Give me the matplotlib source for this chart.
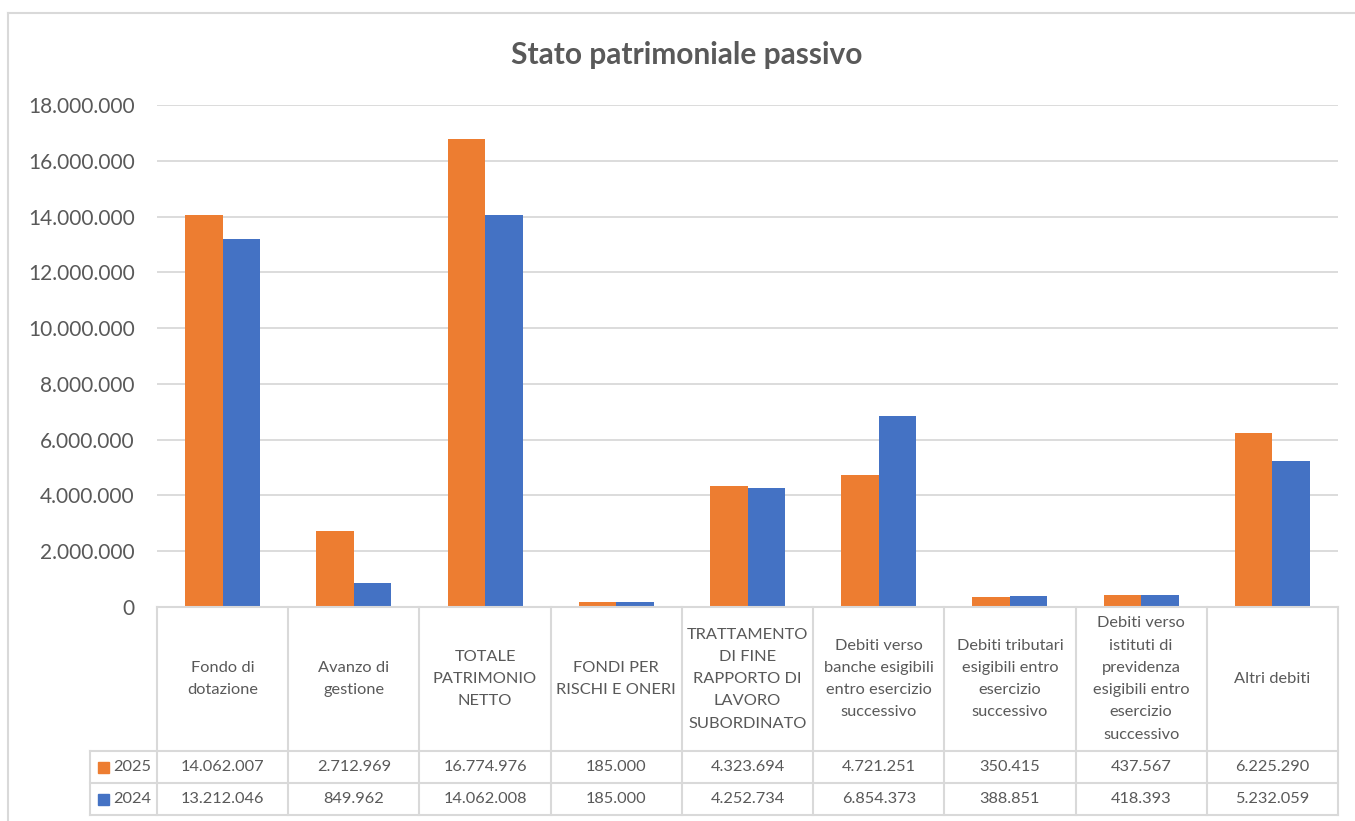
import matplotlib.pyplot as plt
from matplotlib.patches import Rectangle
from matplotlib.lines import Line2D
import numpy as np

plt.rcParams['font.family'] = ['Lato', 'DejaVu Sans']

# ---------------- dati ----------------
categorie = [
    'Fondo di\ndotazione',
    'Avanzo di\ngestione',
    'TOTALE\nPATRIMONIO\nNETTO',
    'FONDI PER\nRISCHI E ONERI',
    'TRATTAMENTO\nDI FINE\nRAPPORTO DI\nLAVORO\nSUBORDINATO',
    'Debiti verso\nbanche esigibili\nentro esercizio\nsuccessivo',
    'Debiti tributari\nesigibili entro\nesercizio\nsuccessivo',
    'Debiti verso\nistituti di\nprevidenza\nesigibili entro\nesercizio\nsuccessivo',
    'Altri debiti',
]
valori_2025 = [14062007, 2712969, 16774976, 185000, 4323694, 4721251, 350415, 437567, 6225290]
valori_2024 = [13212046, 849962, 14062008, 185000, 4252734, 6854373, 388851, 418393, 5232059]
anni = ['2025', '2024']

c_2025 = '#ED7D31'
c_2024 = '#4472C4'
grigio_testo = '#595959'
grigio_linee = '#D9D9D9'

W, H = 1355, 821
fs_tab = 11.8


def fmt(v):
    return f'{v:,}'.replace(',', '.')


fig = plt.figure(figsize=(W / 100, H / 100), dpi=100)

# bordo esterno del grafico (tagliato a destra e in basso)
fig.add_artist(Line2D([8 / W, 8 / W], [0, 1 - 13 / H], color=grigio_linee, lw=1.5))
fig.add_artist(Line2D([8 / W, 1], [1 - 13 / H, 1 - 13 / H], color=grigio_linee, lw=1.5))

# ---------------- grafico a barre ----------------
x0, x1 = 157, 1338
ax = fig.add_axes([x0 / W, 1 - 607 / H, (x1 - x0) / W, (607 - 105) / H])
x = np.arange(len(categorie))
w = 0.286
ax.bar(x - w / 2, valori_2025, w, color=c_2025, zorder=3)
ax.bar(x + w / 2, valori_2024, w, color=c_2024, zorder=3)
ax.set_xlim(-0.5, len(categorie) - 0.5)
ax.set_ylim(0, 18000000)
yt = np.arange(0, 18000001, 2000000)
ax.set_yticks(yt)
ax.set_yticklabels([fmt(v) for v in yt], fontsize=15, color=grigio_testo)
ax.tick_params(axis='y', length=0, pad=16)
ax.set_xticks([])
ax.grid(axis='y', color=grigio_linee, lw=1.3, zorder=0)
for s in ax.spines.values():
    s.set_visible(False)

fig.text(687 / W, 1 - 55 / H, 'Stato patrimoniale passivo', ha='center', va='center',
         fontsize=21.5, fontweight='bold', color=grigio_testo)

# ---------------- tabella dati ----------------
tx = fig.add_axes([x0 / W, 1 - 815 / H, (x1 - x0) / W, (815 - 607) / H])
tx.set_xlim(-0.5, len(categorie) - 0.5)
tx.set_ylim(208, 0)
tx.axis('off')
cella = (x1 - x0) / len(categorie)
leg_sx = -0.5 - 67 / cella
kw = dict(color=grigio_linee, lw=1.5, clip_on=False, solid_capstyle='projecting')
for i in range(len(categorie) + 1):
    tx.plot([i - 0.5, i - 0.5], [0, 208], **kw)
tx.plot([leg_sx, leg_sx], [144, 208], **kw)
tx.plot([-0.5, len(categorie) - 0.5], [0, 0], **kw)
for yy in (144, 176, 208):
    tx.plot([leg_sx, len(categorie) - 0.5], [yy, yy], **kw)

for i, cat in enumerate(categorie):
    tx.text(i, 72, cat, ha='center', va='center', fontsize=fs_tab,
            color=grigio_testo, linespacing=1.75)
    tx.text(i, 160, fmt(valori_2025[i]), ha='center', va='center', fontsize=fs_tab, color=grigio_testo)
    tx.text(i, 192, fmt(valori_2024[i]), ha='center', va='center', fontsize=fs_tab, color=grigio_testo)

for anno, col, yy in zip(anni, [c_2025, c_2024], [160, 192]):
    tx.add_patch(Rectangle((leg_sx + 8 / cella, yy - 5.5), 11 / cella, 11,
                           color=col, clip_on=False))
    tx.text(leg_sx + 23 / cella, yy, anno, ha='left', va='center', fontsize=fs_tab,
            color=grigio_testo, clip_on=False)

plt.savefig('out.png', dpi=100)
